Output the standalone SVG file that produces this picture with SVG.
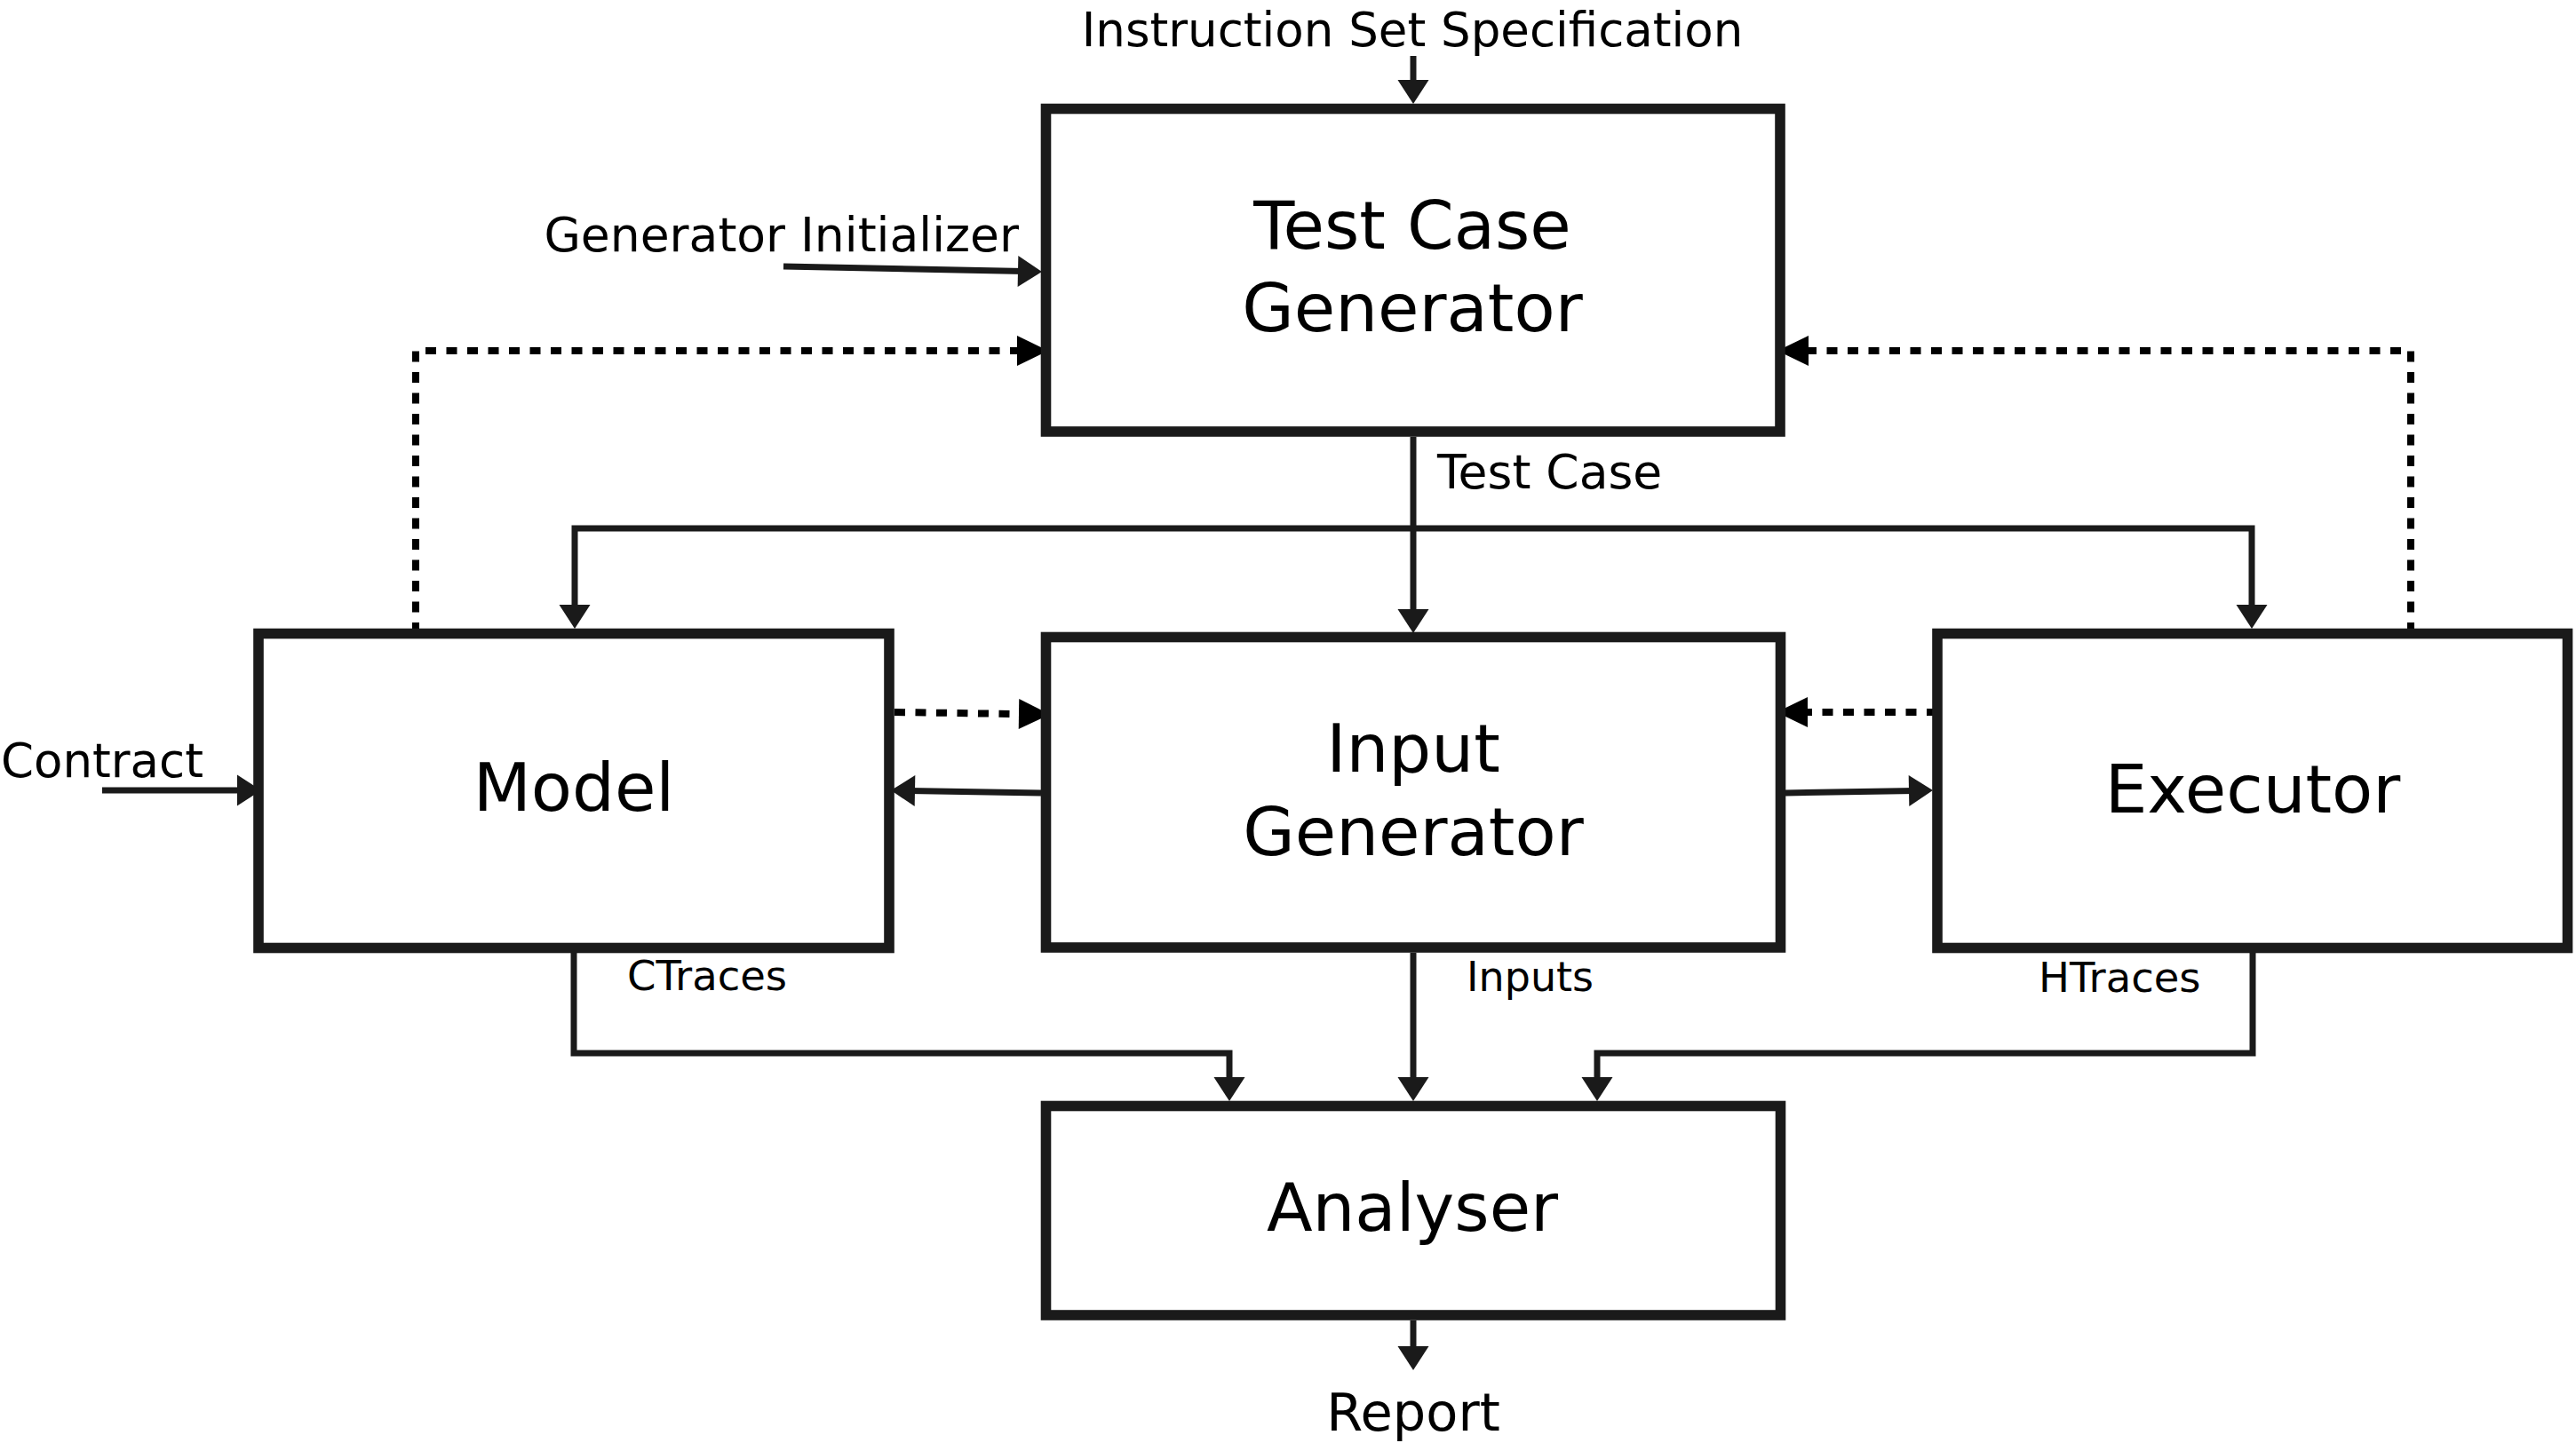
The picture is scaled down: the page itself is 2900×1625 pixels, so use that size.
<svg xmlns="http://www.w3.org/2000/svg" width="2900" height="1625" viewBox="0 0 2900 1625">
<style>
.box{fill:#fff;stroke:#1a1a1a;stroke-width:11.6}
.lbl{font-family:"DejaVu Sans",sans-serif;font-size:75.5px;fill:#000;text-anchor:middle}
.sm{font-family:"DejaVu Sans",sans-serif;fill:#000}
.c{fill:none;stroke:#1a1a1a;stroke-width:7;marker-end:url(#ah)}
.d{fill:none;stroke:#000;stroke-width:8;stroke-dasharray:12 11.5;marker-end:url(#ahd)}
</style>
<defs>
<marker id="ah" markerUnits="userSpaceOnUse" markerWidth="28" markerHeight="36" refX="7" refY="17.5" orient="auto" overflow="visible">
<path d="M0,0 L27,17.5 L0,35 Z" fill="#1a1a1a"/>
</marker>
<marker id="ahd" markerUnits="userSpaceOnUse" markerWidth="36" markerHeight="35" refX="10" refY="17" orient="auto" overflow="visible">
<path d="M0,0 L35,17 L0,34 Z" fill="#000"/>
</marker>
</defs>
<rect width="2900" height="1625" fill="#fff"/>

<g id="connectors">
<path class="c" d="M1591,63 V97"/>
<path class="c" d="M882,300 L1153,305.6"/>
<path class="c" d="M1591,492 V693"/>
<path class="c" d="M1591,595 H647 V688"/>
<path class="c" d="M1591,595 H2535 V688"/>
<path class="c" d="M115,890 H274"/>
<path class="c" d="M1172,893 L1023,890.4"/>
<path class="c" d="M2010,893 L2156,890.4"/>
<path class="c" d="M646,1073 V1186 H1384 V1220"/>
<path class="c" d="M1591,1073 V1220"/>
<path class="c" d="M2536,1073 V1186 H1798 V1220"/>
<path class="c" d="M1591,1487 V1523"/>
<path class="d" d="M468,713 V395 H1155"/>
<path class="d" d="M2714,713 V395 H2026"/>
<path class="d" d="M1007,802 L1157,804.2"/>
<path class="d" d="M2181,802 H2025"/>
</g>

<g id="tcg">
<rect class="box" x="1177.5" y="122.5" width="826.5" height="363.5"/>
<text class="lbl" x="1590" y="280">Test Case</text>
<text class="lbl" x="1590" y="373">Generator</text>
</g>
<g id="model">
<rect class="box" x="291" y="713.5" width="710" height="354"/>
<text class="lbl" x="646" y="913">Model</text>
</g>
<g id="input-generator">
<rect class="box" x="1177.5" y="717.5" width="827" height="349.5"/>
<text class="lbl" x="1591" y="869">Input</text>
<text class="lbl" x="1591" y="962.5">Generator</text>
</g>
<g id="executor">
<rect class="box" x="2181" y="713.5" width="709.5" height="354"/>
<text class="lbl" x="2536" y="914.5">Executor</text>
</g>
<g id="analyser">
<rect class="box" x="1177.5" y="1245.5" width="827" height="235.5"/>
<text class="lbl" x="1590" y="1385.5">Analyser</text>
</g>

<g id="labels">
<text class="sm" x="1590" y="51.5" font-size="53" text-anchor="middle">Instruction Set Specification</text>
<text class="sm" x="1147" y="283" font-size="53.5" text-anchor="end">Generator Initializer</text>
<text class="sm" x="1" y="875" font-size="53">Contract</text>
<text class="sm" x="1618" y="550" font-size="53.5">Test Case</text>
<text class="sm" x="706" y="1115" font-size="46.5">CTraces</text>
<text class="sm" x="1651" y="1116" font-size="46">Inputs</text>
<text class="sm" x="2295" y="1116.5" font-size="46.5">HTraces</text>
<text class="sm" x="1591" y="1611" font-size="59" text-anchor="middle">Report</text>
</g>
</svg>
